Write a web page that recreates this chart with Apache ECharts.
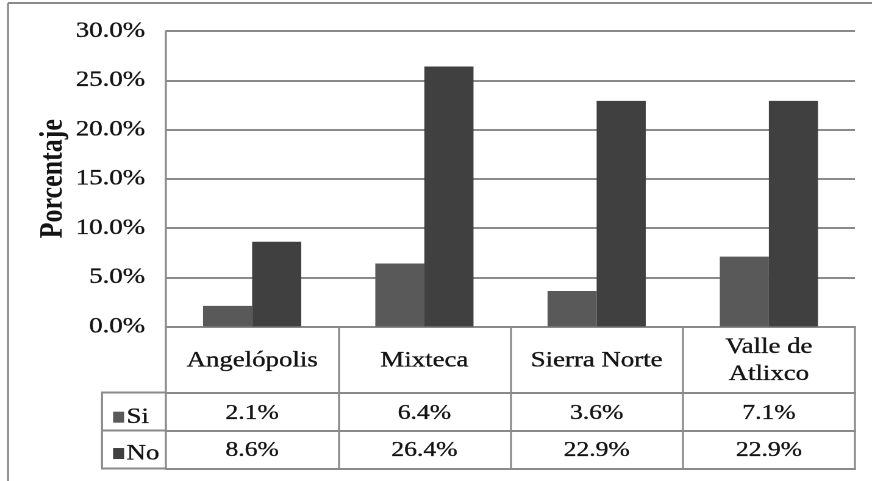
<!DOCTYPE html>
<html>
<head>
<meta charset="utf-8">
<script src="https://cdn.jsdelivr.net/npm/echarts@6/dist/echarts.min.js"></script>
<style>
  html, body { margin: 0; padding: 0; background: #fff; overflow: hidden; }
  /* the chart is laid out narrower and widened horizontally, giving the wide serif lettering */
  #chart { width: 715px; height: 481px; transform: scaleX(1.21958); transform-origin: 0 0; }
</style>
</head>
<body>
<div id="chart"></div>
<script>
// Regions and percentages per answer
const categories = ['Angelópolis', 'Mixteca', 'Sierra Norte', 'Valle de\nAtlixco'];
const siValues = [2.1, 6.4, 3.6, 7.1];
const noValues = [8.6, 26.4, 22.9, 22.9];
const seriesNames = ['Si', 'No'];
const yTicks = { min: 0, max: 30, step: 5 };

const S = 872 / 715;               // horizontal widening factor
const sx = v => v / S;             // page x -> layout x
const FONT = '"Liberation Serif", "Times New Roman", serif';
const INK = '#141414';
const LINE = '#8a8a8a';
const GRID_LEFT = 166, GRID_RIGHT = 855, GRID_TOP = 31, GRID_BOTTOM = 326.5;
const ROW_SI = 66, ROW_NO = 104, ROW_END = 142;
const HW = 2, VW = 2 / S;          // horizontal / vertical rule widths
// slightly heavier lettering
const heavy = { textBorderColor: INK, textBorderWidth: 0.35 };

const pct = v => v.toFixed(1) + '%';

// render at double resolution so the widened canvas stays sharp
const chart = echarts.init(document.getElementById('chart'), null, { renderer: 'canvas', devicePixelRatio: 2 });

const rowAxis = (offset, values, margin) => ({
  type: 'category',
  data: categories,
  position: 'bottom',
  offset: offset,
  axisLine: { show: true, lineStyle: { color: LINE, width: HW } },
  axisTick: { show: false },
  axisLabel: values ? Object.assign({
    interval: 0, margin: margin, verticalAlign: 'middle',
    fontFamily: FONT, fontSize: 21, color: INK,
    formatter: (v, i) => pct(values[i])
  }, heavy) : { show: false }
});

chart.setOption({
  animation: false,
  backgroundColor: '#fff',
  textStyle: { fontFamily: FONT },
  grid: {
    left: sx(GRID_LEFT),
    top: GRID_TOP,
    width: sx(GRID_RIGHT - GRID_LEFT),
    height: GRID_BOTTOM - GRID_TOP
  },
  legend: {
    orient: 'vertical',
    left: sx(107),
    top: 401,
    itemWidth: sx(11),
    itemHeight: 11,
    itemGap: 14,
    icon: 'rect',
    textStyle: Object.assign({ fontFamily: FONT, fontSize: 22, color: INK, lineHeight: 21, padding: [0, 0, 0, -3] }, heavy),
    data: seriesNames
  },
  xAxis: [
    {
      // category row of the data table; ticks form its column rules
      type: 'category',
      data: categories,
      position: 'bottom',
      axisLine: { show: true, lineStyle: { color: LINE, width: HW } },
      axisTick: { show: true, length: ROW_END + 1, lineStyle: { color: LINE, width: VW } },
      axisLabel: Object.assign({
        interval: 0,
        margin: 34,
        verticalAlign: 'middle',
        fontFamily: FONT,
        fontSize: 22,
        lineHeight: 27,
        color: INK
      }, heavy),
      splitLine: { show: false }
    },
    rowAxis(ROW_SI, siValues, 21),
    rowAxis(ROW_NO, noValues, 20),
    rowAxis(ROW_END, null, 0)
  ],
  yAxis: {
    type: 'value',
    min: yTicks.min,
    max: yTicks.max,
    interval: yTicks.step,
    name: 'Porcentaje',
    nameLocation: 'middle',
    nameGap: sx(97),
    nameMoveOverlap: false,
    nameRotate: 90,
    nameTextStyle: { fontFamily: FONT, fontSize: 26, fontWeight: 'bold', color: INK },
    axisLine: { show: true, lineStyle: { color: LINE, width: VW } },
    axisTick: { show: false },
    axisLabel: Object.assign({
      margin: sx(21),
      fontFamily: FONT,
      fontSize: 22,
      color: INK,
      formatter: v => pct(v)
    }, heavy),
    splitLine: { show: true, lineStyle: { color: LINE, width: HW } }
  },
  series: [
    {
      name: seriesNames[0],
      type: 'bar',
      data: siValues,
      barGap: '0%',
      barCategoryGap: '43%',
      itemStyle: { color: '#595959' }
    },
    {
      name: seriesNames[1],
      type: 'bar',
      data: noValues,
      barGap: '0%',
      barCategoryGap: '43%',
      itemStyle: { color: '#404040' }
    }
  ],
  graphic: [
    // outer frame (left and top edges)
    { type: 'line', shape: { x1: sx(8), y1: 3, x2: sx(872), y2: 3 }, style: { stroke: LINE, lineWidth: HW } },
    { type: 'line', shape: { x1: sx(8), y1: 3, x2: sx(8), y2: 481 }, style: { stroke: LINE, lineWidth: VW } },
    // legend column of the data table
    { type: 'line', shape: { x1: sx(102), y1: GRID_BOTTOM + ROW_SI, x2: sx(GRID_LEFT), y2: GRID_BOTTOM + ROW_SI }, style: { stroke: LINE, lineWidth: HW } },
    { type: 'line', shape: { x1: sx(102), y1: GRID_BOTTOM + ROW_NO, x2: sx(GRID_LEFT), y2: GRID_BOTTOM + ROW_NO }, style: { stroke: LINE, lineWidth: HW } },
    { type: 'line', shape: { x1: sx(102), y1: GRID_BOTTOM + ROW_END, x2: sx(GRID_LEFT), y2: GRID_BOTTOM + ROW_END }, style: { stroke: LINE, lineWidth: HW } },
    { type: 'line', shape: { x1: sx(102), y1: GRID_BOTTOM + ROW_SI - 1, x2: sx(102), y2: GRID_BOTTOM + ROW_END + 1 }, style: { stroke: LINE, lineWidth: VW } }
  ]
});
</script>
</body>
</html>
